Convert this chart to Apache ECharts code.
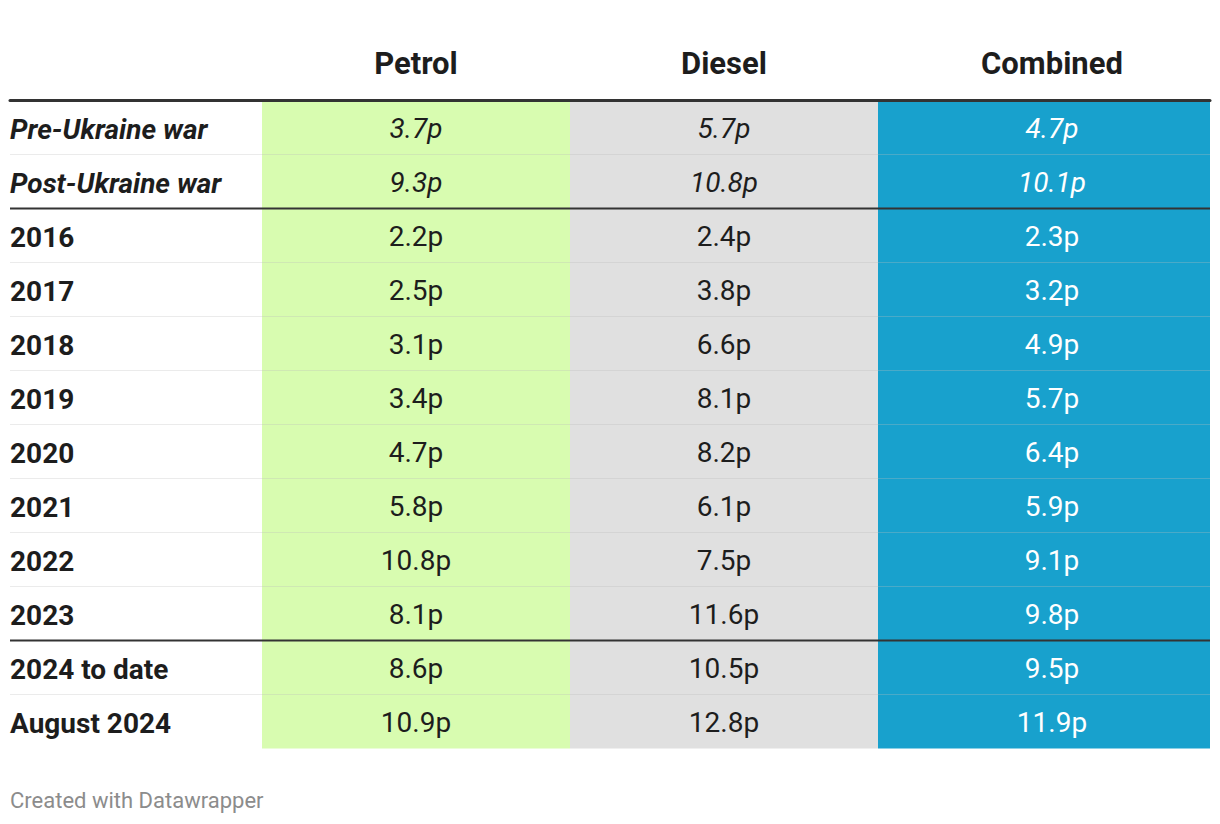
<!DOCTYPE html>
<html>
<head>
<meta charset="utf-8">
<script src="https://cdn.jsdelivr.net/npm/echarts@6/dist/echarts.min.js"></script>
<style>
  html, body { margin: 0; padding: 0; background: #ffffff; }
  #chart { width: 1220px; height: 824px; }
</style>
</head>
<body>
<div id="chart"></div>
<script>
// ---- data ----
const rowLabels = ['Pre-Ukraine war', 'Post-Ukraine war', '2016', '2017', '2018', '2019', '2020', '2021', '2022', '2023', '2024 to date', 'August 2024'];
const columns = ['Petrol', 'Diesel', 'Combined'];
const petrol = [3.7, 9.3, 2.2, 2.5, 3.1, 3.4, 4.7, 5.8, 10.8, 8.1, 8.6, 10.9];
const diesel = [5.7, 10.8, 2.4, 3.8, 6.6, 8.1, 8.2, 6.1, 7.5, 11.6, 10.5, 12.8];
const combined = [4.7, 10.1, 2.3, 3.2, 4.9, 5.7, 6.4, 5.9, 9.1, 9.8, 9.5, 11.9];
const italicRows = [0, 1];
const groupBreaks = [1, 9]; // dark line after these rows

// ---- layout / style ----
const FONT = 'Roboto';
const TOP = 100.5, ROWH = 54;
const HEIGHT = ROWH * rowLabels.length;
const colLayout = [
  { left: 262, width: 308, fill: '#d8fcb0', text: '#1d1d1d', offset: 0 },
  { left: 570, width: 308, fill: '#e0e0e0', text: '#1d1d1d', offset: 0 },
  { left: 878, width: 332, fill: '#18a1cd', text: '#ffffff', offset: 8 }
];
const seriesValues = [petrol, diesel, combined];

const chart = echarts.init(document.getElementById('chart'), null, { renderer: 'svg' });

const grids = [{ left: 10, width: 1200, top: TOP, height: HEIGHT }];
const xAxes = [{
  gridIndex: 0, type: 'value', min: 0, max: 1, position: 'top', z: 10,
  axisLine: { show: true, lineStyle: { color: '#333333', width: 3 } },
  axisTick: { show: false }, axisLabel: { show: false }, splitLine: { show: false }
}];
const yAxes = [{
  gridIndex: 0, type: 'category', data: rowLabels, inverse: true,
  axisLine: { show: false }, axisTick: { show: false }, splitLine: { show: false },
  axisLabel: {
    inside: true, margin: 0, align: 'left', padding: [3, 0, 0, 0],
    fontFamily: FONT, fontSize: 28, fontWeight: 'bold', color: '#1d1d1d',
    formatter: function (v, i) {
      return italicRows.indexOf(i) >= 0 ? '{it|' + v + '}' : v;
    },
    rich: { it: { fontFamily: FONT, fontSize: 28, fontWeight: 'bold', fontStyle: 'italic', color: '#1d1d1d' } }
  }
}];
const series = [];

colLayout.forEach(function (cl, ci) {
  const gi = ci + 1;
  grids.push({ left: cl.left, width: cl.width, top: TOP, height: HEIGHT });
  xAxes.push({
    gridIndex: gi, type: 'category', data: [columns[ci]], position: 'top',
    axisLine: { show: false }, axisTick: { show: false }, splitLine: { show: false },
    axisLabel: {
      margin: 22, fontFamily: FONT, fontSize: 31, fontWeight: 'bold', color: '#1d1d1d',
      padding: [0, 0, 0, cl.offset * 2]
    }
  });
  yAxes.push({
    gridIndex: gi, type: 'category', data: rowLabels, inverse: true, show: false
  });
  series.push({
    type: 'custom',
    xAxisIndex: gi, yAxisIndex: gi, z: 2,
    data: seriesValues[ci].map(function (v, r) { return [0, r, v]; }),
    renderItem: function (params, api) {
      const r = api.value(1), v = api.value(2);
      const pt = api.coord([0, r]);
      const sz = api.size([1, 1]);
      const cs = params.coordSys;
      return {
        type: 'group',
        children: [
          { type: 'rect', shape: { x: cs.x, y: pt[1] - sz[1] / 2, width: cs.width, height: sz[1] },
            style: { fill: cl.fill } },
          { type: 'text', x: pt[0] + cl.offset, y: pt[1] + 1,
            style: { text: v.toFixed(1) + 'p', align: 'center', verticalAlign: 'middle',
              fontFamily: FONT, fontSize: 28, fontStyle: italicRows.indexOf(r) >= 0 ? 'italic' : 'normal',
              fill: cl.text } }
        ]
      };
    }
  });
});

// separator lines across the whole table
series.push({
  type: 'custom', xAxisIndex: 0, yAxisIndex: 0, z: 5, silent: true,
  data: rowLabels.slice(0, rowLabels.length - 1).map(function (l, r) { return [0, r]; }),
  renderItem: function (params, api) {
    const r = api.value(1);
    const pt = api.coord([0, r]);
    const sz = api.size([1, 1]);
    const cs = params.coordSys;
    const y = pt[1] + sz[1] / 2;
    const dark = groupBreaks.indexOf(r) >= 0;
    return {
      type: 'line',
      shape: { x1: cs.x, y1: y, x2: cs.x + cs.width, y2: y },
      style: { stroke: dark ? '#333333' : 'rgba(0,0,0,0.08)', lineWidth: dark ? 2 : 1.2 }
    };
  }
});

chart.setOption({
  animation: false,
  backgroundColor: '#ffffff',
  title: {
    text: 'Created with Datawrapper', left: 10, top: 789, padding: 0,
    textStyle: { fontFamily: FONT, fontSize: 22, fontWeight: 'normal', color: '#8c8c8c' }
  },
  grid: grids,
  xAxis: xAxes,
  yAxis: yAxes,
  series: series
});
</script>
</body>
</html>
